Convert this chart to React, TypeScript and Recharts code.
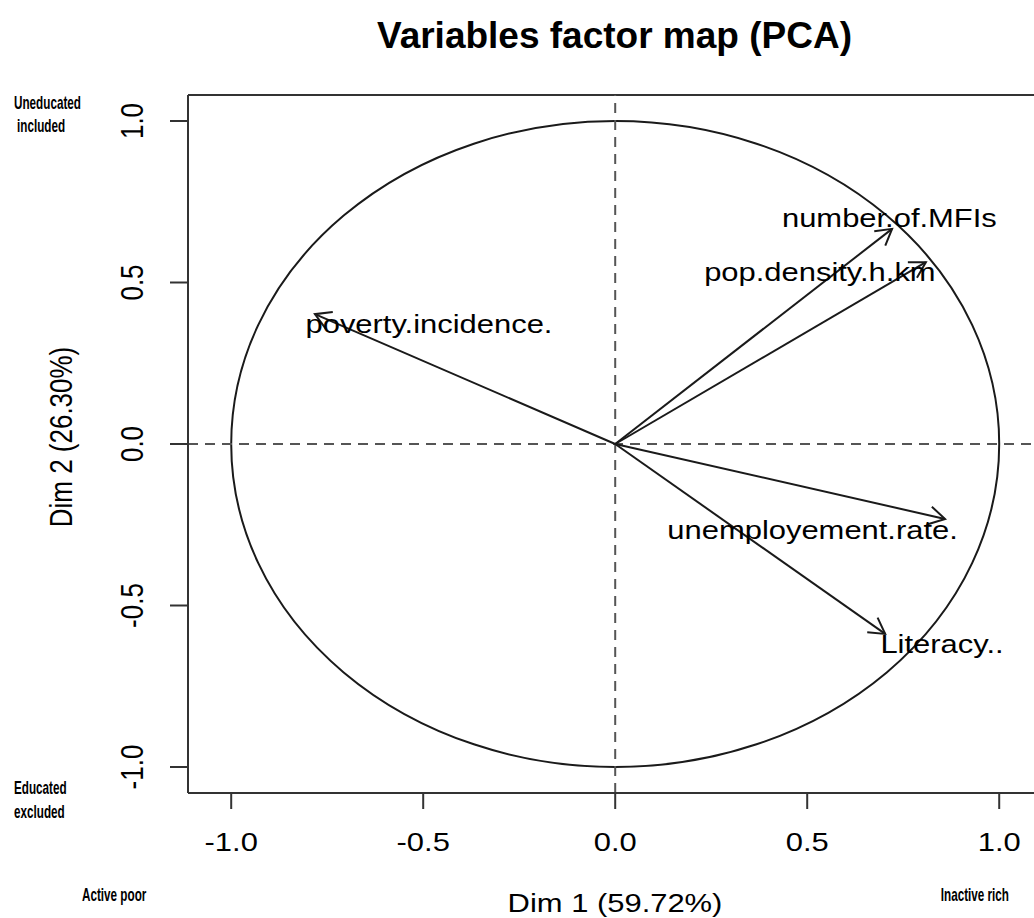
import {
  ComposedChart,
  XAxis,
  YAxis,
  Scatter,
  ReferenceLine,
  ReferenceArea,
} from "recharts";

const variables = [
  "number.of.MFIs",
  "pop.density.h.km",
  "poverty.incidence.",
  "unemployement.rate.",
  "Literacy..",
];
const dim1 = [0.721, 0.809, -0.782, 0.859, 0.703];
const dim2 = [0.666, 0.563, 0.402, -0.232, -0.588];
// where R's autoLab put the text for each arrow
const labelDim1 = [0.714, 0.533, -0.485, 0.514, 0.851];
const labelDim2 = [0.672, 0.505, 0.344, -0.294, -0.647];
const axisTicks = [-1, -0.5, 0, 0.5, 1];

const labelData = variables.map((name, i) => ({
  name,
  x: labelDim1[i],
  y: labelDim2[i],
}));

const FONT = "'Liberation Sans', Arial, sans-serif";
const STRETCH = 1.19;
const NARROW = 0.65;

function Arrow(props: any) {
  const { x1, y1, x2, y2 } = props;
  const a = Math.atan2(y2 - y1, x2 - x1);
  const len = 18;
  const sp = Math.PI / 6;
  const h1 = `${x2 - len * Math.cos(a - sp)},${y2 - len * Math.sin(a - sp)}`;
  const h2 = `${x2 - len * Math.cos(a + sp)},${y2 - len * Math.sin(a + sp)}`;
  return (
    <g stroke="#1a1a1a" strokeWidth={2} fill="none">
      <line x1={x1} y1={y1} x2={x2} y2={y2} />
      <polyline points={`${h1} ${x2},${y2} ${h2}`} />
    </g>
  );
}

function Circle(props: any) {
  const { x, y, width, height } = props;
  return (
    <ellipse
      cx={x + width / 2}
      cy={y + height / 2}
      rx={Math.abs(width) / 2}
      ry={Math.abs(height) / 2}
      fill="none"
      stroke="#1a1a1a"
      strokeWidth={2}
    />
  );
}

function VarLabel(props: any) {
  const { cx, cy, payload } = props;
  return (
    <text
      transform={`translate(${cx},${cy}) scale(${STRETCH},1)`}
      textAnchor="middle"
      fontFamily={FONT}
      fontSize={26}
      fill="#000"
    >
      {payload.name}
    </text>
  );
}

function XTick(props: any) {
  const { x, y, payload } = props;
  return (
    <text
      transform={`translate(${x},${y + 40}) scale(${STRETCH},1)`}
      textAnchor="middle"
      fontFamily={FONT}
      fontSize={26}
      fill="#000"
    >
      {payload.value.toFixed(1)}
    </text>
  );
}

function YTick(props: any) {
  const { x, y, payload } = props;
  return (
    <text
      transform={`translate(${x - 25},${y}) scale(${STRETCH},1) rotate(-90)`}
      textAnchor="middle"
      fontFamily={FONT}
      fontSize={26}
      fill="#000"
    >
      {payload.value.toFixed(1)}
    </text>
  );
}

function Note(props: { x: number; y: number; anchor?: "start" | "end"; children: string }) {
  const { x, y, anchor = "start", children } = props;
  return (
    <text
      transform={`translate(${x},${y}) scale(${NARROW},1)`}
      textAnchor={anchor}
      fontFamily={FONT}
      fontWeight="bold"
      fontSize={18}
      fill="#000"
    >
      {children}
    </text>
  );
}

export default function App() {
  return (
    <div
      style={{
        position: "absolute",
        left: 0,
        top: 0,
        width: 1034,
        height: 918,
        overflow: "hidden",
        background: "#fff",
      }}
    >
      <ComposedChart
        width={1034}
        height={918}
        margin={{ top: 95, right: 0, bottom: 0, left: 0 }}
      >
        <XAxis
          type="number"
          dataKey="x"
          domain={[-1.1125, 1.0906]}
          allowDataOverflow
          ticks={axisTicks}
          interval={0}
          height={125}
          tickSize={16}
          tickMargin={2}
          axisLine={{ stroke: "#333", strokeWidth: 2 }}
          tickLine={{ stroke: "#333", strokeWidth: 2 }}
          tick={XTick}
        />
        <YAxis
          type="number"
          dataKey="y"
          domain={[-1.0805, 1.0805]}
          allowDataOverflow
          ticks={axisTicks}
          interval={0}
          width={188}
          tickSize={18}
          tickMargin={2}
          axisLine={{ stroke: "#333", strokeWidth: 2 }}
          tickLine={{ stroke: "#333", strokeWidth: 2 }}
          tick={YTick}
        />
        <ReferenceLine y={1.0805} stroke="#333" strokeWidth={2} ifOverflow="visible" />
        <ReferenceLine x={0} stroke="#555" strokeWidth={2} strokeDasharray="10 7" />
        <ReferenceLine y={0} stroke="#555" strokeWidth={2} strokeDasharray="10 7" />
        <ReferenceArea x1={-1} x2={1} y1={-1} y2={1} shape={Circle} ifOverflow="visible" />
        {variables.map((v, i) => (
          <ReferenceLine
            key={v}
            segment={[
              { x: 0, y: 0 },
              { x: dim1[i], y: dim2[i] },
            ]}
            shape={Arrow}
          />
        ))}
        <Scatter data={labelData} shape={VarLabel} isAnimationActive={false} />
        <text x={614.5} y={48} textAnchor="middle" fontFamily={FONT} fontSize={37} fontWeight="bold" fill="#000">
          Variables factor map (PCA)
        </text>
        <text
          transform={`translate(615,912) scale(${STRETCH},1)`}
          textAnchor="middle"
          fontFamily={FONT}
          fontSize={26}
          fill="#000"
        >
          Dim 1 (59.72%)
        </text>
        <text
          transform={`translate(72,437) scale(${STRETCH},1) rotate(-90)`}
          textAnchor="middle"
          fontFamily={FONT}
          fontSize={26}
          fill="#000"
        >
          Dim 2 (26.30%)
        </text>
        <Note x={14} y={109}>Uneducated</Note>
        <Note x={17} y={132}>included</Note>
        <Note x={14} y={794}>Educated</Note>
        <Note x={14} y={818}>excluded</Note>
        <Note x={82} y={901}>Active poor</Note>
        <Note x={1009} y={901} anchor="end">Inactive rich</Note>
      </ComposedChart>
    </div>
  );
}
